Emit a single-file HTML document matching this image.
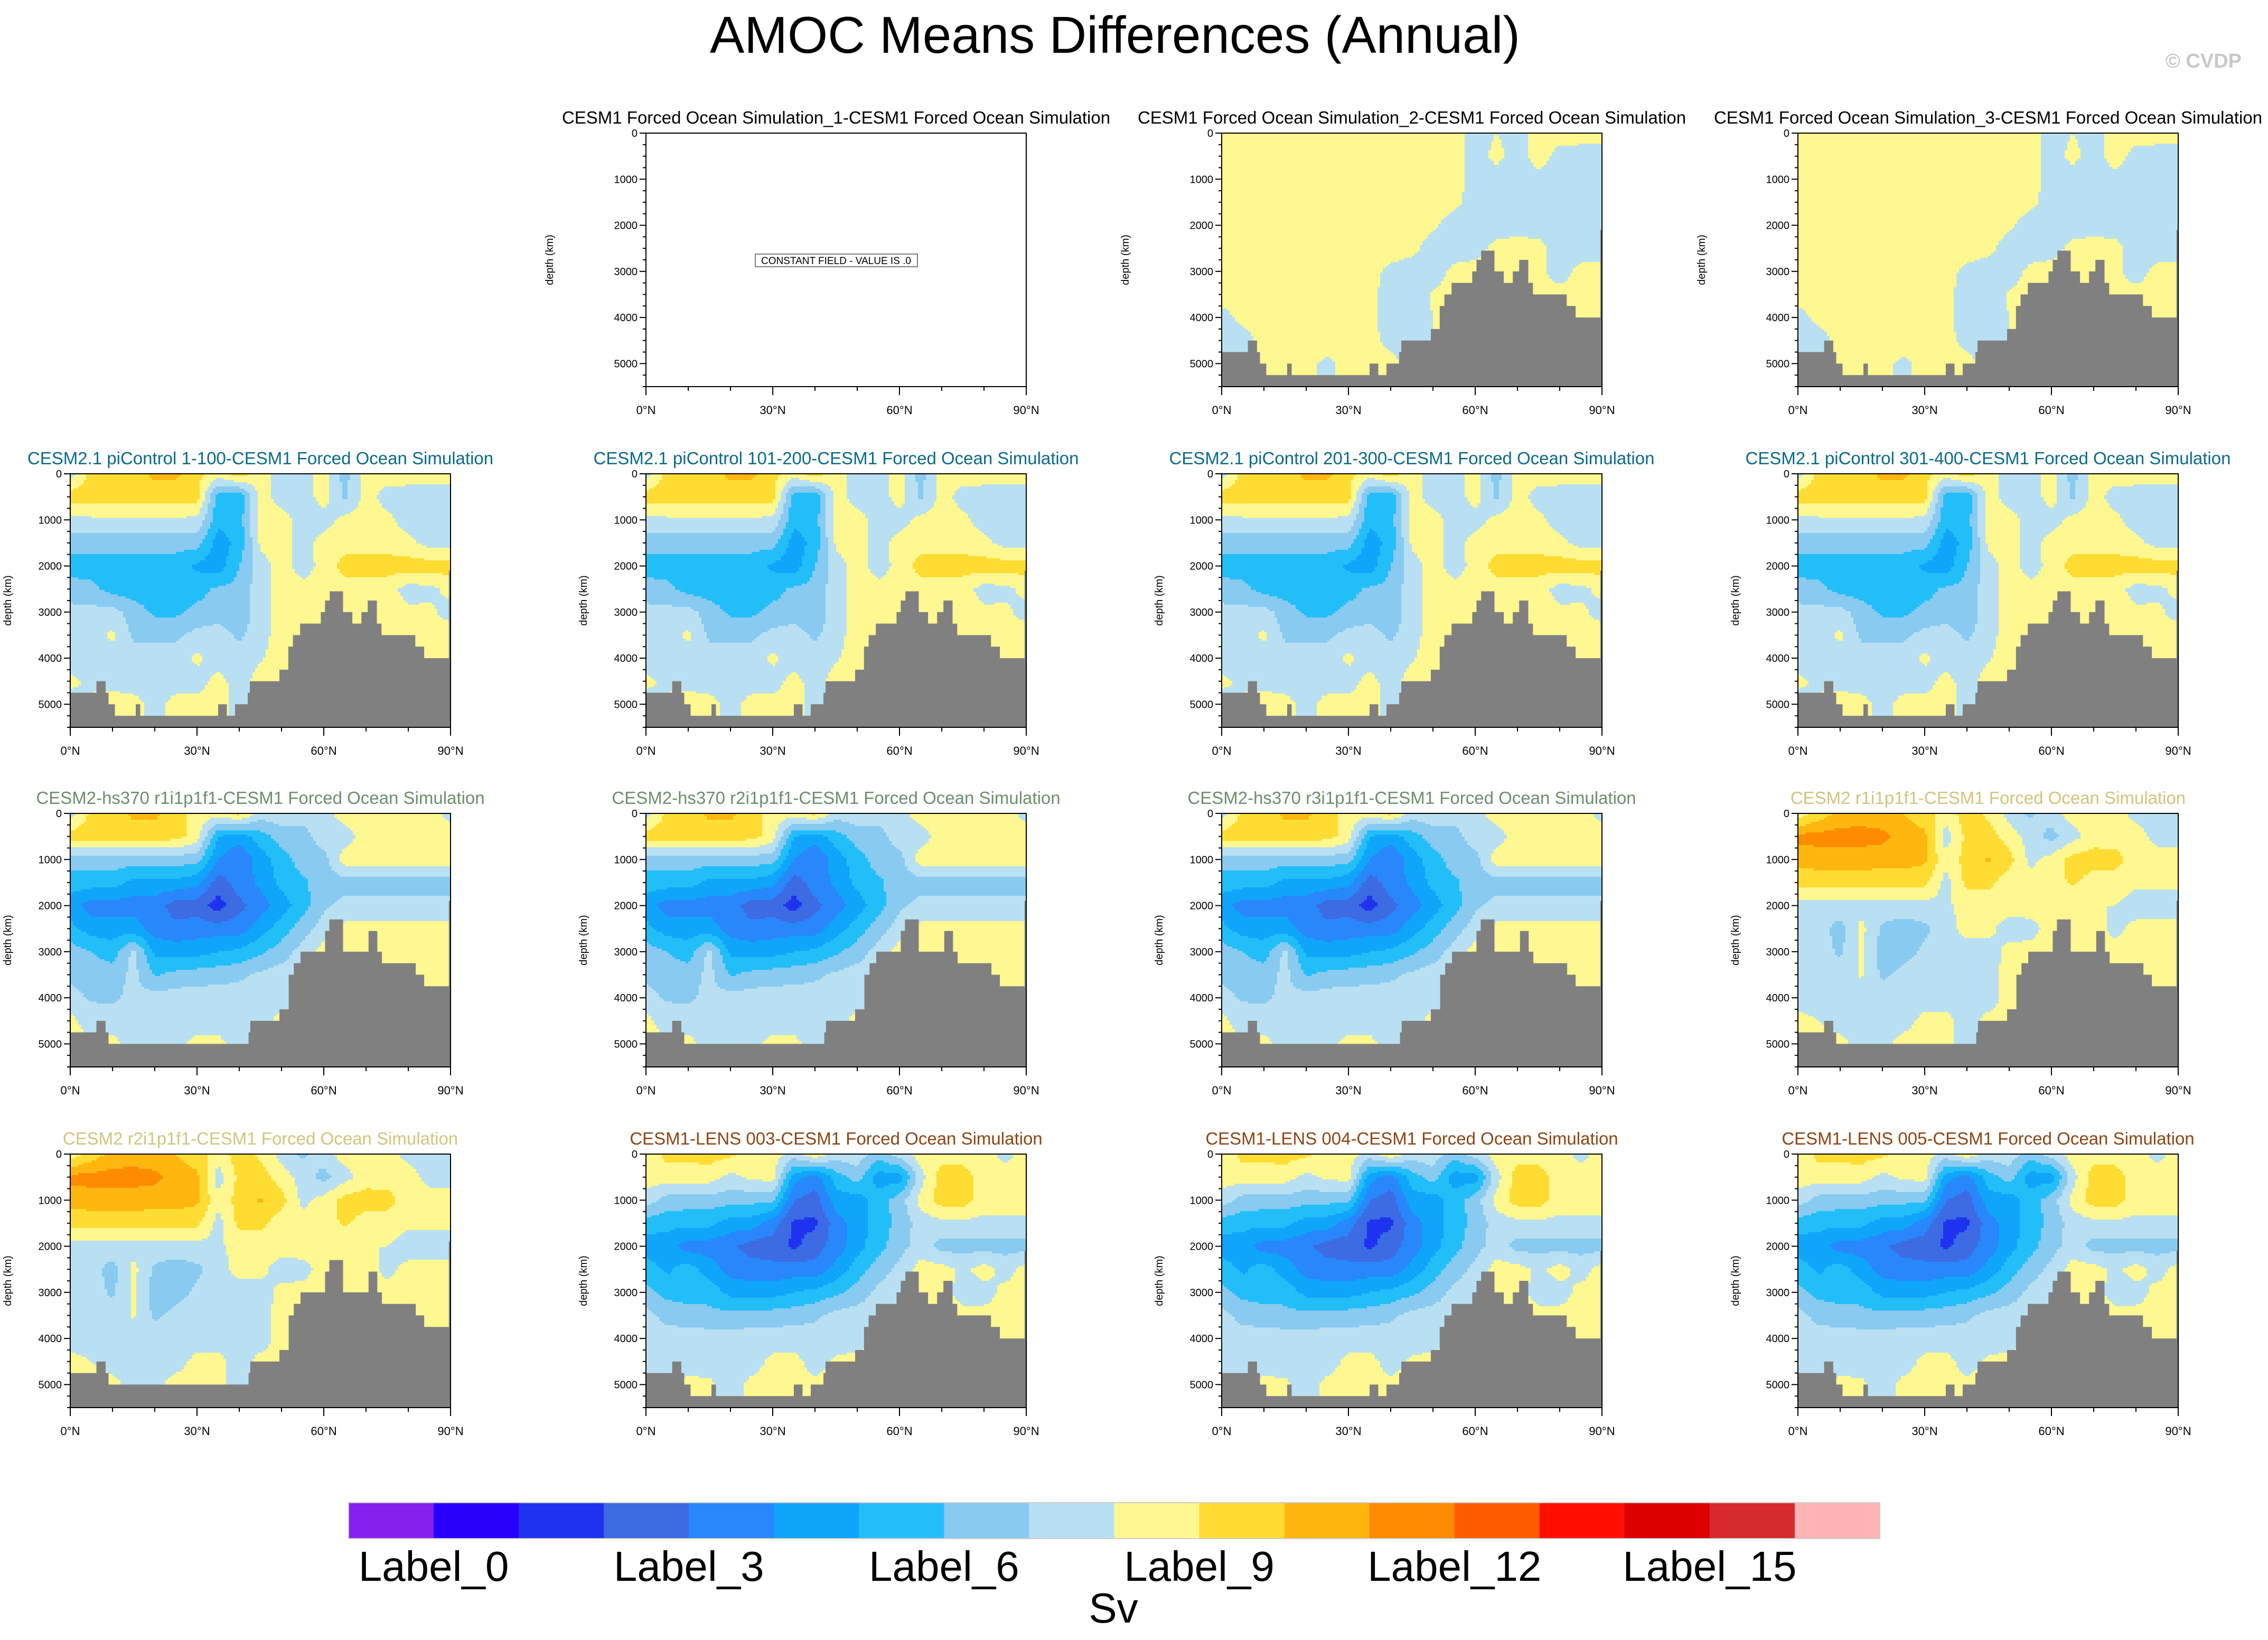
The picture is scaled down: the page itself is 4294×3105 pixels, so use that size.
<!DOCTYPE html>
<html><head><meta charset="utf-8">
<style>
html,body{margin:0;padding:0;background:#fff;}
body{width:4294px;height:3105px;overflow:hidden;font-family:"Liberation Sans",sans-serif;}
svg{display:block;}
</style></head>
<body>
<svg id="chart" width="4294" height="3105" viewBox="0 0 4294 3105" xmlns="http://www.w3.org/2000/svg" font-family="Liberation Sans, sans-serif">
<text x="2111" y="100" font-size="98" text-anchor="middle" fill="#000">AMOC Means Differences (Annual)</text>
<text x="4244" y="128" font-size="38" font-weight="bold" text-anchor="end" fill="#c8c8c8">© CVDP</text>
<g id="panels"></g>
<g id="colorbar"></g>
</svg>
<script>
const NS="http://www.w3.org/2000/svg";
const colors=["#8520EE","#2800FA","#1E32F0","#3C6BE3","#2887FA","#0FA5FA","#22BEF8","#88CAF0","#B8E0F2","#FFF78F","#FFDC32","#FFB70F","#FF8C00","#FF5A00","#FF1000","#DC0000","#D72A2A","#FFB4B4"];
const cbLabels=["Label_0","Label_3","Label_6","Label_9","Label_12","Label_15"];
const cbLabelIdx=[1,4,7,10,13,16];
const depthTicks=[0,1000,2000,3000,4000,5000];
const latTicks=[0,30,60,90];
const latTickLabels=["0°N","30°N","60°N","90°N"];
// depth rows every 500 m (0..5500), lat columns every 5° (0..90); values = colour class
const fieldA=[
[9.5,9.5,9.5,9.5,9.5,9.5,9.5,9.5,9.5,9.5,9.5,9.5,8.6,9.0,8.7,9.3,9.5,9.5,9.5],
[9.5,9.5,9.5,9.5,9.5,9.5,9.5,9.5,9.5,9.5,9.0,9.5,8.5,9.3,8.5,9.5,8.6,8.5,8.5],
[9.5,9.5,9.5,9.5,9.5,9.5,9.5,9.5,9.5,9.5,9.5,9.5,8.5,8.5,8.5,8.6,8.5,8.5,8.5],
[9.5,9.5,9.5,9.5,9.5,9.5,9.5,9.5,9.5,9.5,9.5,9.3,8.5,8.5,8.5,8.5,8.5,8.5,8.5],
[9.5,9.5,9.5,9.5,9.5,9.5,9.5,9.5,9.5,9.5,9.2,8.5,8.5,8.7,8.7,8.6,8.5,8.5,8.5],
[9.5,9.5,9.5,9.5,9.5,9.5,9.5,9.5,9.5,9.3,8.5,8.6,8.7,9.2,9.3,9.3,8.5,8.5,8.5],
[9.5,9.5,9.5,9.5,9.5,9.5,9.5,9.4,8.7,8.5,8.6,9.2,9.3,9.3,9.0,9.2,8.6,9.3,9.3],
[9.5,9.5,9.5,9.5,9.5,9.5,9.5,9.3,8.5,8.5,9.1,9.3,9.3,9.3,9.3,9.3,9.3,9.3,9.3],
[8.6,9.3,9.5,9.5,9.5,9.5,9.5,9.3,8.5,8.5,9.0,9.0,9.0,9.0,9.0,9.0,9.0,9.0,9.0],
[8.5,8.5,9.4,9.5,9.5,9.5,9.5,9.3,8.7,8.5,9.0,9.0,9.0,9.0,9.0,9.0,9.0,9.0,9.0],
[8.5,8.6,9.4,9.4,9.2,8.8,9.3,9.3,9.3,8.6,9.0,9.0,9.0,9.0,9.0,9.0,9.0,9.0,9.0],
[8.5,8.6,9.4,9.4,9.2,8.8,9.3,9.3,9.3,8.6,9.0,9.0,9.0,9.0,9.0,9.0,9.0,9.0,9.0]];
const fieldB=[
[8.6,10.3,10.4,10.6,11.2,11.2,10.3,9.5,10.5,9.5,8.6,8.6,9.4,7.6,9.5,9.5,9.5,9.5,9.5],
[10.5,10.5,10.5,10.5,10.5,10.5,10.4,6.5,6.2,9.4,8.6,8.5,9.4,7.8,9.4,8.6,8.5,8.5,8.5],
[8.6,8.8,8.8,8.8,8.8,8.8,8.8,6.3,6.5,9.5,9.4,8.6,8.6,9.3,9.5,9.3,8.5,8.5,8.5],
[7.5,7.5,7.4,7.4,7.4,7.4,7.4,5.5,6.3,9.2,9.4,8.6,9.4,9.5,9.5,9.5,9.3,8.6,8.6],
[6.5,6.5,6.5,6.5,6.5,6.5,5.8,5.4,7.0,8.6,9.4,8.6,9.3,10.5,10.5,10.5,10.5,10.5,10.5],
[7.5,7.3,6.6,6.5,6.5,6.5,6.6,7.2,7.3,8.6,9.4,9.3,9.3,9.4,9.4,9.4,8.6,8.7,9.3],
[8.3,8.3,8.4,7.5,6.8,6.8,7.3,7.5,7.3,8.6,9.5,9.5,9.5,9.5,9.5,9.5,9.2,9.2,8.6],
[8.5,8.5,9.2,7.8,7.7,7.8,8.3,8.5,7.8,8.6,9.5,9.5,9.5,9.5,9.5,9.5,9.5,9.5,9.5],
[8.5,8.5,8.6,8.5,8.5,8.5,9.2,8.5,8.5,8.9,9.5,9.5,9.5,9.5,9.5,9.5,9.5,9.5,9.5],
[9.2,8.8,8.6,8.5,8.5,8.5,8.6,9.3,8.6,9.4,9.5,9.5,9.5,9.5,9.5,9.5,9.5,9.5,9.5],
[8.6,9.2,9.5,9.4,8.6,9.4,9.3,9.5,8.6,9.5,9.5,9.5,9.5,9.5,9.5,9.5,9.5,9.5,9.5],
[8.6,9.2,9.5,9.4,8.6,9.4,9.3,9.5,8.6,9.5,9.5,9.5,9.5,9.5,9.5,9.5,9.5,9.5,9.5]];
const fieldC=[
[8.5,10.3,10.5,11.2,11.2,10.5,9.5,9.5,10.3,8.6,8.6,8.6,8.6,9.5,9.5,9.5,9.5,9.5,8.6],
[10.5,10.5,10.5,10.5,10.5,10.4,9.5,6.0,5.5,6.5,7.5,7.5,8.6,8.5,9.5,9.5,9.5,9.5,9.5],
[7.5,7.5,7.5,7.5,7.5,7.5,7.4,5.0,4.0,5.5,6.5,7.5,7.6,9.5,9.5,9.5,9.5,9.5,9.5],
[6.5,6.5,6.5,5.7,5.7,5.7,5.3,3.5,4.5,5.2,6.3,6.8,7.5,7.6,7.6,7.6,7.6,7.6,7.6],
[5.5,4.5,4.5,4.5,4.5,3.5,3.5,2.5,3.7,4.5,5.5,6.6,7.8,8.3,8.3,8.3,8.3,8.3,8.3],
[6.3,5.5,5.5,5.5,4.5,4.3,4.5,4.5,4.5,5.5,6.5,7.5,8.5,9.3,9.3,9.3,9.3,9.3,9.3],
[7.5,7.0,6.5,8.3,5.8,5.5,5.6,6.0,6.2,6.8,7.5,8.4,9.4,9.4,9.4,9.4,9.4,9.4,9.4],
[7.8,7.5,7.5,8.3,6.9,7.3,7.5,7.6,7.8,8.2,8.5,8.6,9.4,9.4,9.4,9.4,9.4,9.4,9.4],
[8.3,7.9,7.8,8.3,8.4,8.5,8.5,8.5,8.5,8.5,8.6,8.6,9.4,9.4,9.4,9.4,9.4,9.4,9.4],
[9.3,8.5,8.5,8.5,8.5,8.5,8.5,8.5,8.5,8.6,9.3,9.3,9.4,9.4,9.4,9.4,9.4,9.4,9.4],
[9.3,9.2,9.3,8.6,8.5,8.7,9.3,9.3,8.5,8.5,9.3,9.3,9.4,9.4,9.4,9.4,9.4,9.4,9.4],
[9.3,9.2,9.3,8.6,8.5,8.7,9.3,9.3,8.5,8.5,9.3,9.3,9.4,9.4,9.4,9.4,9.4,9.4,9.4]];
const fieldD=[
[9.3,10.4,11.3,11.5,11.3,11.0,10.5,9.5,10.5,9.8,8.6,7.8,8.6,9.5,9.5,9.5,8.6,8.6,8.6],
[12.3,12.4,12.4,12.4,12.3,11.5,11.2,8.5,10.3,10.5,9.5,8.6,7.6,8.6,9.5,9.5,9.5,8.6,8.6],
[11.4,11.5,11.5,11.5,11.4,11.4,11.2,9.3,10.4,11.1,10.4,8.7,9.4,10.4,10.5,10.4,9.5,9.5,9.5],
[10.3,10.4,10.4,10.4,10.4,10.4,10.3,8.6,10.3,10.3,9.4,9.5,9.5,10.2,9.5,9.5,9.2,9.2,9.2],
[8.6,8.6,8.6,8.6,8.6,8.6,8.6,8.8,9.4,9.3,9.5,9.5,9.3,9.0,9.0,9.0,8.5,8.6,8.6],
[8.5,8.4,7.6,9.3,7.8,7.5,7.8,8.5,9.4,9.3,8.5,8.6,9.5,9.4,9.4,8.7,9.3,9.3,9.3],
[8.5,8.5,7.8,9.2,7.5,7.6,8.2,8.5,8.5,8.6,9.3,9.4,9.4,9.4,9.4,9.4,9.4,9.4,9.4],
[8.5,8.5,8.5,9.1,7.8,8.3,8.5,8.5,8.5,8.5,9.4,9.4,9.4,9.4,9.4,9.4,9.4,9.4,9.4],
[8.6,8.5,8.5,8.5,8.5,8.5,8.5,8.5,8.5,8.5,9.4,9.4,9.4,9.4,9.4,9.4,9.4,9.4,9.4],
[9.3,9.0,8.6,8.5,8.5,8.6,9.3,9.3,8.6,9.3,9.3,9.4,9.4,9.4,9.4,9.4,9.4,9.4,9.4],
[9.3,9.3,9.3,8.6,8.7,9.4,9.4,9.3,8.5,9.3,9.3,9.4,9.4,9.4,9.4,9.4,9.4,9.4,9.4],
[9.3,9.3,9.3,8.6,8.7,9.4,9.4,9.3,8.5,9.3,9.3,9.4,9.4,9.4,9.4,9.4,9.4,9.4,9.4]];
const fieldE=[
[9.3,10.3,10.3,10.4,10.2,9.5,9.5,8.6,9.8,8.6,8.6,7.5,8.5,9.5,9.5,9.5,9.5,8.6,9.5],
[9.5,9.5,9.5,9.5,8.7,9.2,9.4,5.5,4.5,6.5,7.5,5.5,5.5,8.6,10.5,10.5,9.5,9.5,9.5],
[8.5,7.6,7.5,7.5,7.4,7.3,7.3,4.0,3.5,5.5,5.5,6.5,7.5,9.3,10.5,10.5,9.5,9.5,9.5],
[6.5,6.3,6.3,6.3,5.5,5.5,4.5,2.8,2.8,4.5,5.5,6.5,7.3,8.5,8.7,8.7,8.7,8.7,8.7],
[5.5,5.5,4.5,4.5,4.3,3.5,3.5,2.8,3.5,4.5,5.6,6.6,7.6,8.5,7.6,7.6,7.6,7.6,7.6],
[6.5,5.8,6.5,5.5,4.6,4.5,4.3,4.5,4.4,5.3,6.5,7.5,8.3,9.4,9.4,8.8,9.4,8.6,9.4],
[7.3,6.7,6.5,6.6,5.7,5.5,5.6,6.0,6.3,6.8,7.4,8.3,8.6,9.3,9.4,8.6,8.6,9.3,9.3],
[8.4,7.6,7.5,7.3,7.3,7.4,7.5,7.6,7.8,8.3,8.5,8.6,9.3,9.3,9.3,9.3,9.3,9.3,9.3],
[8.5,8.5,8.5,8.5,8.5,8.5,8.5,8.5,8.5,8.5,8.5,9.3,9.3,9.3,9.3,9.3,9.3,9.3,9.3],
[8.5,8.5,8.5,8.5,8.5,8.5,9.3,9.3,8.6,9.2,9.3,9.3,9.3,9.3,9.3,9.3,9.3,9.3,9.3],
[8.5,8.6,9.3,9.2,8.5,9.3,9.4,9.3,9.2,9.3,9.3,9.3,9.3,9.3,9.3,9.3,9.3,9.3,9.3],
[8.5,8.6,9.3,9.2,8.5,9.3,9.4,9.3,9.2,9.3,9.3,9.3,9.3,9.3,9.3,9.3,9.3,9.3,9.3]];
// bathymetry step starts (lat) and floor depth (m)
const bathyLat1=[0,6.2,8.3,9,10.5,15.5,16.5,35,37,39,42,42.5,49.5,51.6,52.7,54.4,59.3,60.3,61.4,64.5,66.7,68.9,70.4,72.5,73.6,81.6,83.7,89.6];
const bathyDep1=[4750,4500,4750,5000,5250,5000,5250,5000,5250,5000,4750,4500,4250,3750,3500,3250,3000,2750,2550,3000,3250,3000,2750,3250,3500,3750,4000,2100];
const bathyLat2=[0,6.2,8.3,9,42.2,42.6,49.5,51.7,52.9,54.5,60.3,61.3,64.5,70.6,72.6,73.7,81.7,83.7,89.6];
const bathyDep2=[4750,4500,4750,5000,4750,4500,4250,3500,3250,3000,2550,2300,3000,2550,3000,3250,3500,3750,1900];

const colX=[133,1223,2313,3404], rowY=[252,897,1540,2185], W=720, H=480, DMAX=5500;
const panels=[
 {r:0,c:1,t:"CESM1 Forced Ocean Simulation_1-CESM1 Forced Ocean Simulation",col:"#000",f:null,b:null},
 {r:0,c:2,t:"CESM1 Forced Ocean Simulation_2-CESM1 Forced Ocean Simulation",col:"#000",f:fieldA,b:1},
 {r:0,c:3,t:"CESM1 Forced Ocean Simulation_3-CESM1 Forced Ocean Simulation",col:"#000",f:fieldA,b:1},
 {r:1,c:0,t:"CESM2.1 piControl 1-100-CESM1 Forced Ocean Simulation",col:"#0b6a87",f:fieldB,b:1},
 {r:1,c:1,t:"CESM2.1 piControl 101-200-CESM1 Forced Ocean Simulation",col:"#0b6a87",f:fieldB,b:1},
 {r:1,c:2,t:"CESM2.1 piControl 201-300-CESM1 Forced Ocean Simulation",col:"#0b6a87",f:fieldB,b:1},
 {r:1,c:3,t:"CESM2.1 piControl 301-400-CESM1 Forced Ocean Simulation",col:"#0b6a87",f:fieldB,b:1},
 {r:2,c:0,t:"CESM2-hs370 r1i1p1f1-CESM1 Forced Ocean Simulation",col:"#6b8e6b",f:fieldC,b:2},
 {r:2,c:1,t:"CESM2-hs370 r2i1p1f1-CESM1 Forced Ocean Simulation",col:"#6b8e6b",f:fieldC,b:2},
 {r:2,c:2,t:"CESM2-hs370 r3i1p1f1-CESM1 Forced Ocean Simulation",col:"#6b8e6b",f:fieldC,b:2},
 {r:2,c:3,t:"CESM2 r1i1p1f1-CESM1 Forced Ocean Simulation",col:"#d2c47c",f:fieldD,b:2},
 {r:3,c:0,t:"CESM2 r2i1p1f1-CESM1 Forced Ocean Simulation",col:"#d2c47c",f:fieldD,b:2},
 {r:3,c:1,t:"CESM1-LENS 003-CESM1 Forced Ocean Simulation",col:"#8b4513",f:fieldE,b:1},
 {r:3,c:2,t:"CESM1-LENS 004-CESM1 Forced Ocean Simulation",col:"#8b4513",f:fieldE,b:1},
 {r:3,c:3,t:"CESM1-LENS 005-CESM1 Forced Ocean Simulation",col:"#8b4513",f:fieldE,b:1}];

function mk(tag,attrs,parent){const e=document.createElementNS(NS,tag);for(const k in attrs)e.setAttribute(k,attrs[k]);parent.appendChild(e);return e;}
function sample(f,lat,d){
 const fr=Math.min(d/500,10.9999), fc=Math.min(lat/5,17.9999);
 const r0=Math.floor(fr), c0=Math.floor(fc), tr=fr-r0, tc=fc-c0;
 return (f[r0][c0]*(1-tc)+f[r0][c0+1]*tc)*(1-tr)+(f[r0+1][c0]*(1-tc)+f[r0+1][c0+1]*tc)*tr;
}
const root=document.getElementById('panels');
panels.forEach((p,pi)=>{
 const L=colX[p.c], T=rowY[p.r];
 const xs=lat=>L+lat/90*W, ys=d=>T+d/DMAX*H;
 const g=mk('g',{},root);
 
 
 const tt=mk('text',{x:L+W/2,y:T-18,'font-size':33,'text-anchor':'middle',fill:p.col},g);
 
 
 tt.textContent=p.t;
 if(p.f){
  const nx=144, ny=120, cw=W/nx, ch=H/ny;
  for(let j=0;j<ny;j++){
   const d=(j+0.5)*DMAX/ny;
   let runStart=0, runCls=-1;
   for(let i=0;i<=nx;i++){
    let cls=-2;
    if(i<nx){const v=sample(p.f,(i+0.5)*90/nx,d);cls=Math.max(0,Math.min(17,Math.floor(v)));}
    if(cls!==runCls){
     if(runCls>=0){
      const r=mk('rect',{x:(L+runStart*cw).toFixed(2),y:(T+j*ch).toFixed(2),width:((i-runStart)*cw+0.6).toFixed(2),height:(ch+0.6).toFixed(2),fill:colors[runCls]},g);
      
      
     }
     runStart=i; runCls=cls;
    }
   }
  }
  const bl=p.b===1?bathyLat1:bathyLat2, bd=p.b===1?bathyDep1:bathyDep2;
  for(let k=0;k<bl.length;k++){
   const x0=xs(bl[k]), x1=xs(k+1<bl.length?bl[k+1]:90);
   const r=mk('rect',{x:x0,y:ys(bd[k]),width:x1-x0+0.5,height:T+H-ys(bd[k]),fill:'#808080'},g);
   
   
  }
 } else {
  const bx=mk('rect',{x:1430,y:481,width:307,height:24,fill:'#fff',stroke:'#000','stroke-width':1},g);
  
  
  const bt=mk('text',{x:1583,y:500,'font-size':19,'text-anchor':'middle',fill:'#000'},g);
  
  
  bt.textContent="CONSTANT FIELD - VALUE IS .0";
 }
 const fr=mk('rect',{x:L,y:T,width:W,height:H,fill:'none',stroke:'#000','stroke-width':2},g);
 
 
 for(let d=0;d<=DMAX;d+=250){
  const major=d%1000===0;
  mk('line',{x1:L,x2:L-(major?12:6),y1:ys(d),y2:ys(d),stroke:'#000','stroke-width':2},g);
 }
 depthTicks.forEach(d=>{
  const t=mk('text',{x:L-16,y:ys(d)+7,'font-size':20,'text-anchor':'end',fill:'#000'},g);
  
  
  t.textContent=d;
 });
 for(let a=0;a<=90;a+=10){
  const major=a%30===0;
  mk('line',{x1:xs(a),x2:xs(a),y1:T+H,y2:T+H+(major?16:8),stroke:'#000','stroke-width':2},g);
 }
 latTicks.forEach((a,k)=>{
  const t=mk('text',{x:xs(a),y:T+H+52,'font-size':22,'text-anchor':'middle',fill:'#000'},g);
  
  
  t.textContent=latTickLabels[k];
 });
 const yl=mk('text',{x:0,y:0,'font-size':20,'text-anchor':'middle',fill:'#000',transform:`translate(${L-(p.r===0?176:112)},${T+H/2}) rotate(-90)`},g);
 
 
 yl.textContent="depth (km)";
});
// colorbar
const cb=document.getElementById('colorbar');
const cbX=660, cbY=2845, cbW=2899, cbH=68, bw=cbW/colors.length;
colors.forEach((c,i)=>{
 const r=mk('rect',{x:cbX+i*bw,y:cbY,width:bw+0.5,height:cbH,fill:c},cb);
 
 
});
mk('rect',{x:cbX,y:cbY,width:cbW,height:cbH,fill:'none',stroke:'#ccc','stroke-width':2},cb);
cbLabels.forEach((s,k)=>{
 const t=mk('text',{x:cbX+cbLabelIdx[k]*bw,y:2993,'font-size':80,'text-anchor':'middle',fill:'#000'},cb);
 
 
 t.textContent=s;
});
const sv=mk('text',{x:2108,y:3072,'font-size':80,'text-anchor':'middle',fill:'#000'},cb);


sv.textContent="Sv";
</script>
</body></html>
